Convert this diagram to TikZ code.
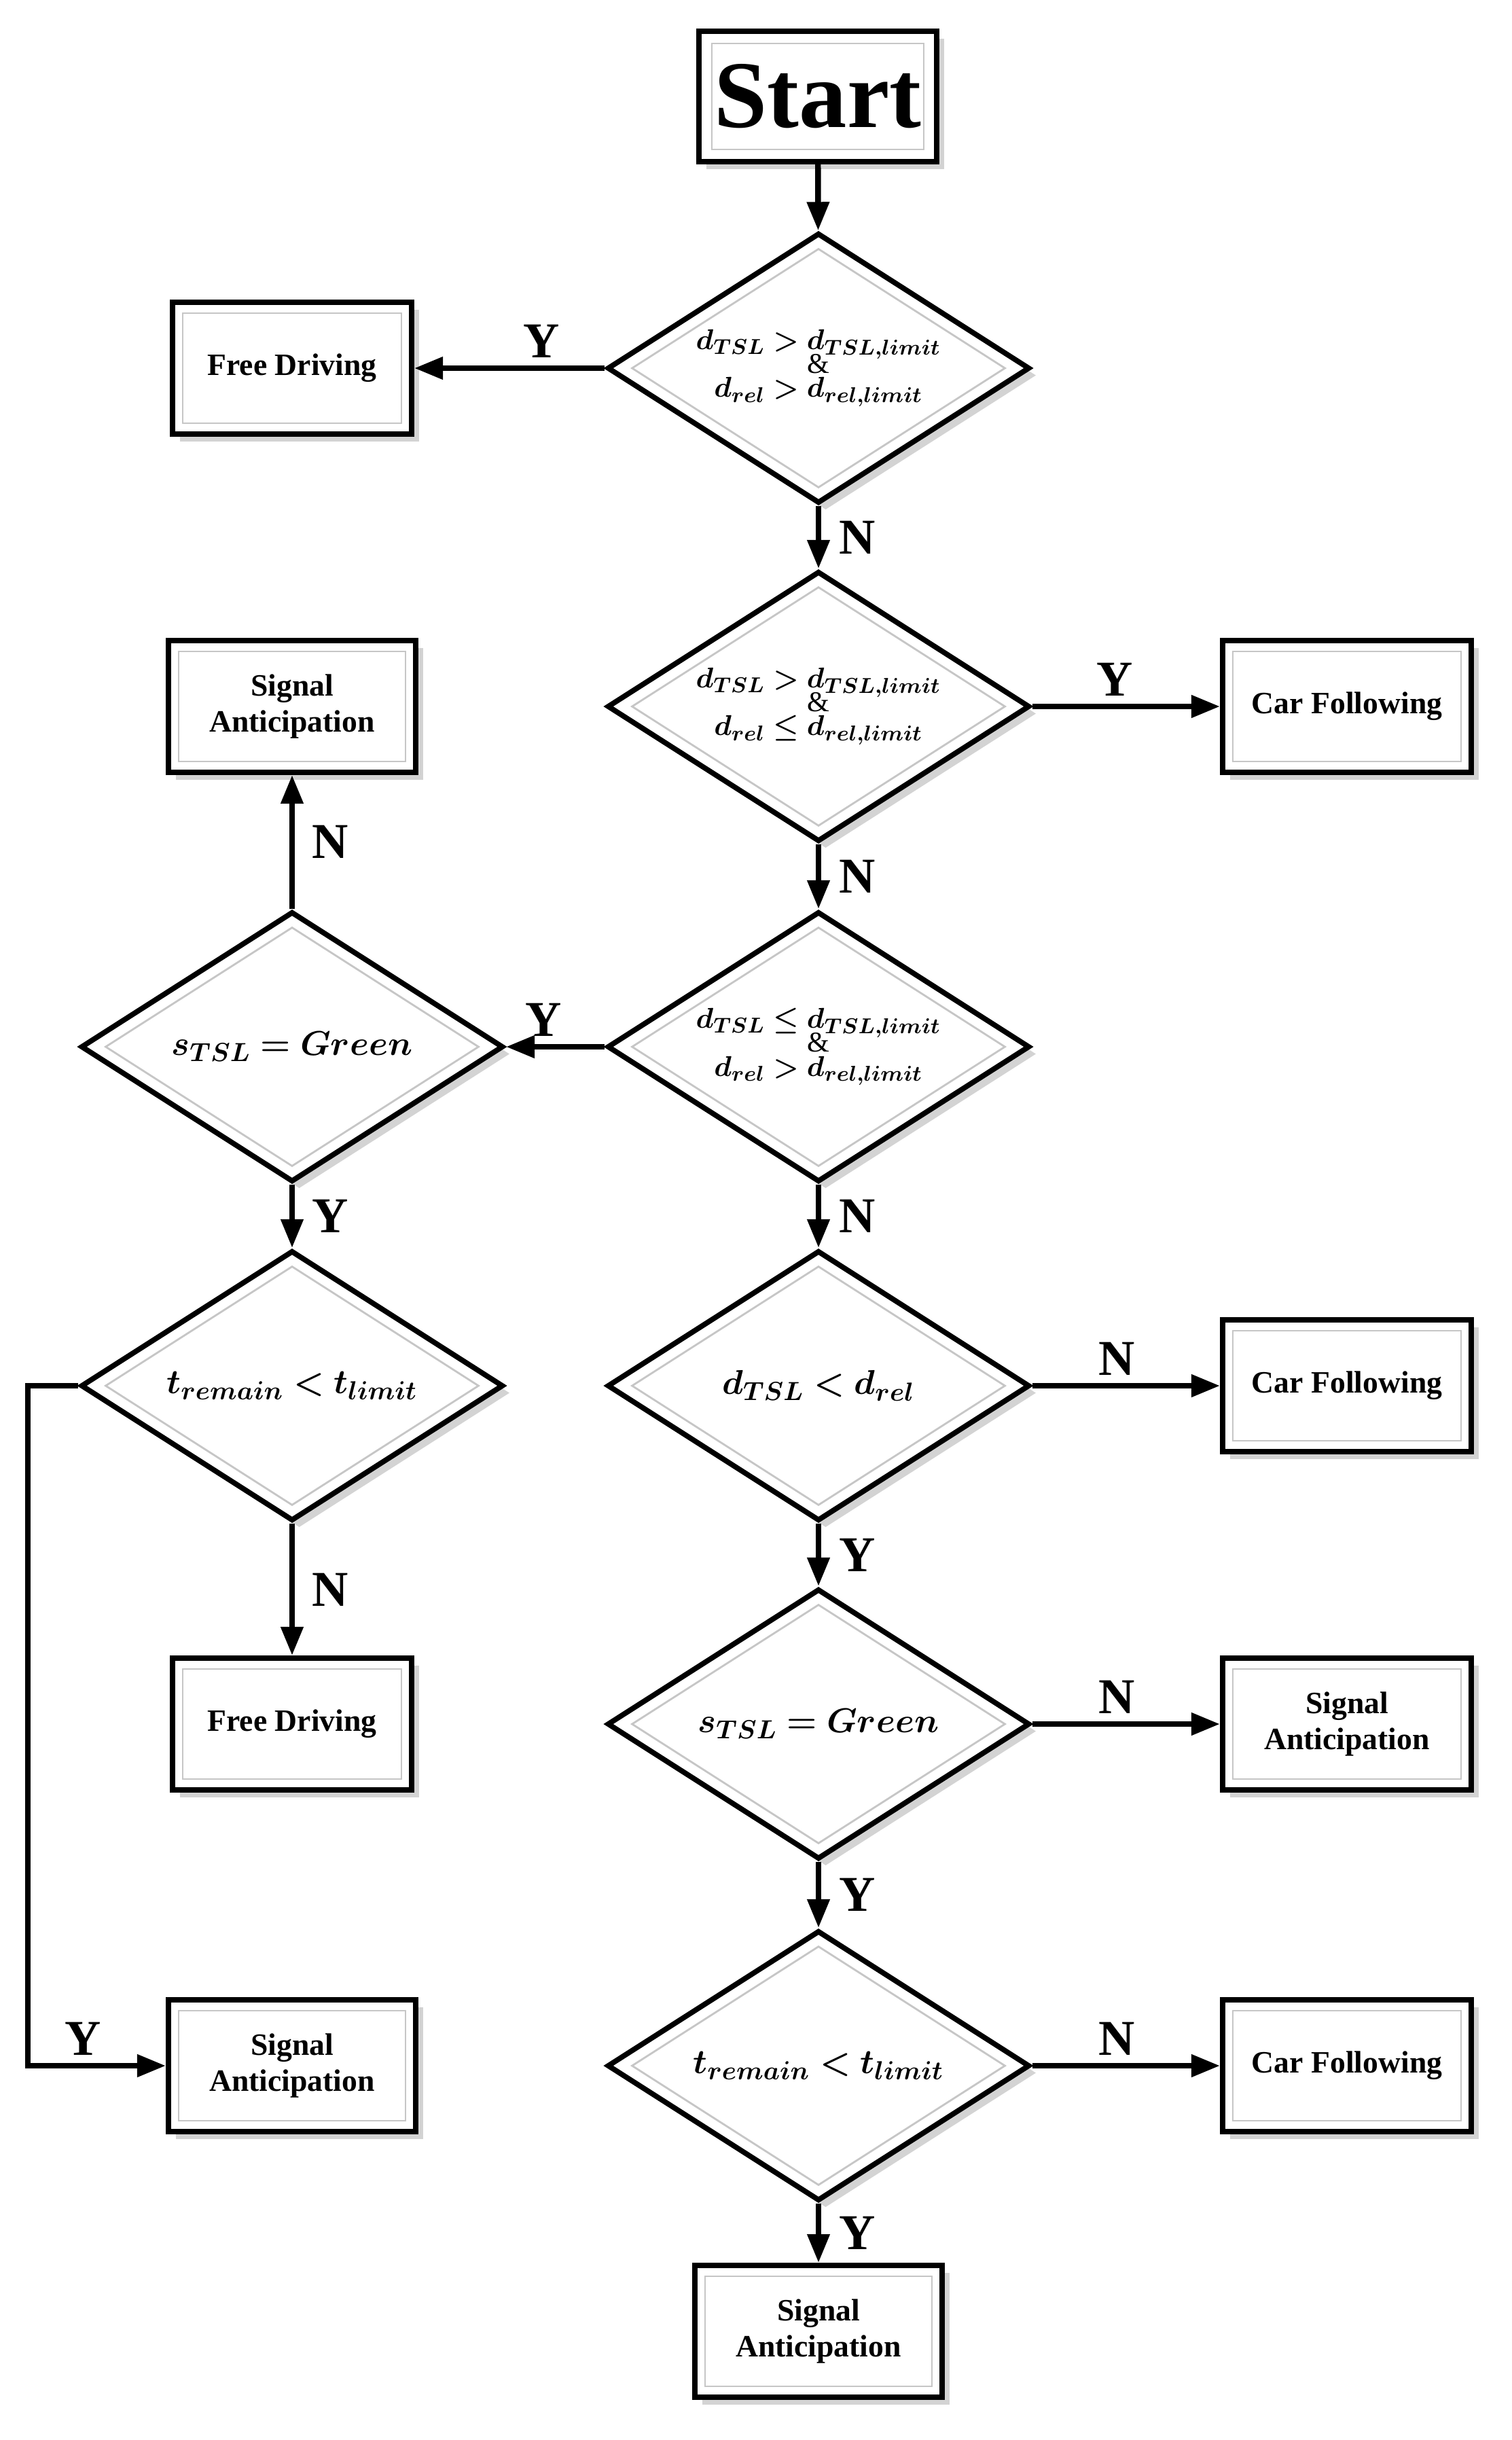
\documentclass[tikz,border=0pt]{standalone}
\usepackage{fontspec}
\setmainfont{Liberation Serif}
\usepackage{amsmath,bm}
\usetikzlibrary{shapes.geometric,shadows,arrows.meta}
\newcommand{\mth}[1]{\fontsize{13}{16}\selectfont$\bm{#1}$}
\tikzset{
  box/.style={draw=black,line width=2.2pt,fill=white,minimum width=#1,minimum height=1.94cm,align=center,
    font=\fontsize{13}{15}\selectfont\bfseries,drop shadow={opacity=0.35,shadow xshift=3pt,shadow yshift=-3pt}},
  boxin/.style={draw=gray!45,line width=0.8pt,minimum width=#1,minimum height=1.62cm},
  dia/.style={diamond,draw=black,line width=2.2pt,fill=white,shape aspect=1.56,minimum width=6.22cm,minimum height=3.98cm,
    inner sep=0pt,align=center,drop shadow={opacity=0.35,shadow xshift=3pt,shadow yshift=-3pt}},
  diain/.style={diamond,draw=gray!45,line width=0.8pt,shape aspect=1.56,minimum width=5.5cm,minimum height=3.52cm,inner sep=0pt},
  arr/.style={-{Triangle[length=12pt,width=9pt]},line width=2.4pt},
  lab/.style={font=\fontsize{21}{24}\selectfont\bfseries},
}
\newcommand{\bx}[5]{\node[box=#4] (#1) at (#2,#3) {#5};\node[boxin=#4-0.3cm] at (#2,#3) {};}
\newcommand{\dm}[4]{\node[dia] (#1) at (#2,#3) {#4};\node[diain] at (#2,#3) {};}
\begin{document}
\begin{tikzpicture}
\useasboundingbox (0,0) rectangle (22.25,-35.92);
% Start
\node[box=3.5cm,minimum height=1.92cm,font=\fontsize{40}{44}\selectfont\bfseries] (start) at (12.04,-1.42) {Start};
\node[boxin=3.12cm,minimum height=1.56cm] at (12.04,-1.42) {};
% main diamonds
\dm{d1}{12.05}{-5.42}{\mth{d_{TSL} > d_{TSL,limit}}\\[-2pt]{\fontsize{12}{14}\selectfont\&}\\[-2pt]\mth{d_{rel} > d_{rel,limit}}}
\dm{d2}{12.05}{-10.40}{\mth{d_{TSL} > d_{TSL,limit}}\\[-2pt]{\fontsize{12}{14}\selectfont\&}\\[-2pt]\mth{d_{rel} \le d_{rel,limit}}}
\dm{d3}{12.05}{-15.41}{\mth{d_{TSL} \le d_{TSL,limit}}\\[-2pt]{\fontsize{12}{14}\selectfont\&}\\[-2pt]\mth{d_{rel} > d_{rel,limit}}}
\dm{d4}{12.05}{-20.40}{{\fontsize{15}{18}\selectfont$\bm{d_{TSL} < d_{rel}}$}}
\dm{d5}{12.05}{-25.38}{{\fontsize{15}{18}\selectfont$\bm{s_{TSL} = Green}$}}
\dm{d6}{12.05}{-30.41}{{\fontsize{15}{18}\selectfont$\bm{t_{remain} < t_{limit}}$}}
% left diamonds
\dm{l1}{4.30}{-15.41}{{\fontsize{15}{18}\selectfont$\bm{s_{TSL} = Green}$}}
\dm{l2}{4.30}{-20.40}{{\fontsize{15}{18}\selectfont$\bm{t_{remain} < t_{limit}}$}}
% boxes
\bx{fd1}{4.30}{-5.42}{3.52cm}{Free Driving}
\bx{sa1}{4.30}{-10.40}{3.64cm}{Signal\\Anticipation}
\bx{cf1}{19.83}{-10.40}{3.66cm}{Car Following}
\bx{cf2}{19.83}{-20.40}{3.66cm}{Car Following}
\bx{sa2}{19.83}{-25.38}{3.66cm}{Signal\\Anticipation}
\bx{cf3}{19.83}{-30.41}{3.66cm}{Car Following}
\bx{fd2}{4.30}{-25.38}{3.52cm}{Free Driving}
\bx{sa3}{4.30}{-30.41}{3.64cm}{Signal\\Anticipation}
\bx{sa4}{12.05}{-34.32}{3.64cm}{Signal\\Anticipation}
% arrows
\draw[arr] (start) -- (d1);
\draw[arr] (d1) -- node[lab,above,pos=0.33]{Y} (fd1);
\draw[arr] (d1) -- node[lab,right=4pt]{N} (d2);
\draw[arr] (d2) -- node[lab,above,pos=0.44]{Y} (cf1);
\draw[arr] (d2) -- node[lab,right=4pt]{N} (d3);
\draw[arr] (d3) -- node[lab,above,pos=0.62]{Y} (l1);
\draw[arr] (d3) -- node[lab,right=4pt]{N} (d4);
\draw[arr] (l1) -- node[lab,right=4pt]{N} (sa1);
\draw[arr] (l1) -- node[lab,right=4pt]{Y} (l2);
\draw[arr] (l2) -- node[lab,right=4pt]{N} (fd2);
\coordinate (c1) at (0.41,-20.40);
\coordinate (c2) at (0.41,-30.41);
\draw[arr] (l2.west) -- (c1) -- (c2) -- node[lab,above,pos=0.4]{Y} (sa3);
\draw[arr] (d4) -- node[lab,above,pos=0.45]{N} (cf2);
\draw[arr] (d4) -- node[lab,right=4pt]{Y} (d5);
\draw[arr] (d5) -- node[lab,above,pos=0.45]{N} (sa2);
\draw[arr] (d5) -- node[lab,right=4pt]{Y} (d6);
\draw[arr] (d6) -- node[lab,above,pos=0.45]{N} (cf3);
\draw[arr] (d6) -- node[lab,right=4pt]{Y} (sa4);
\end{tikzpicture}
\end{document}
